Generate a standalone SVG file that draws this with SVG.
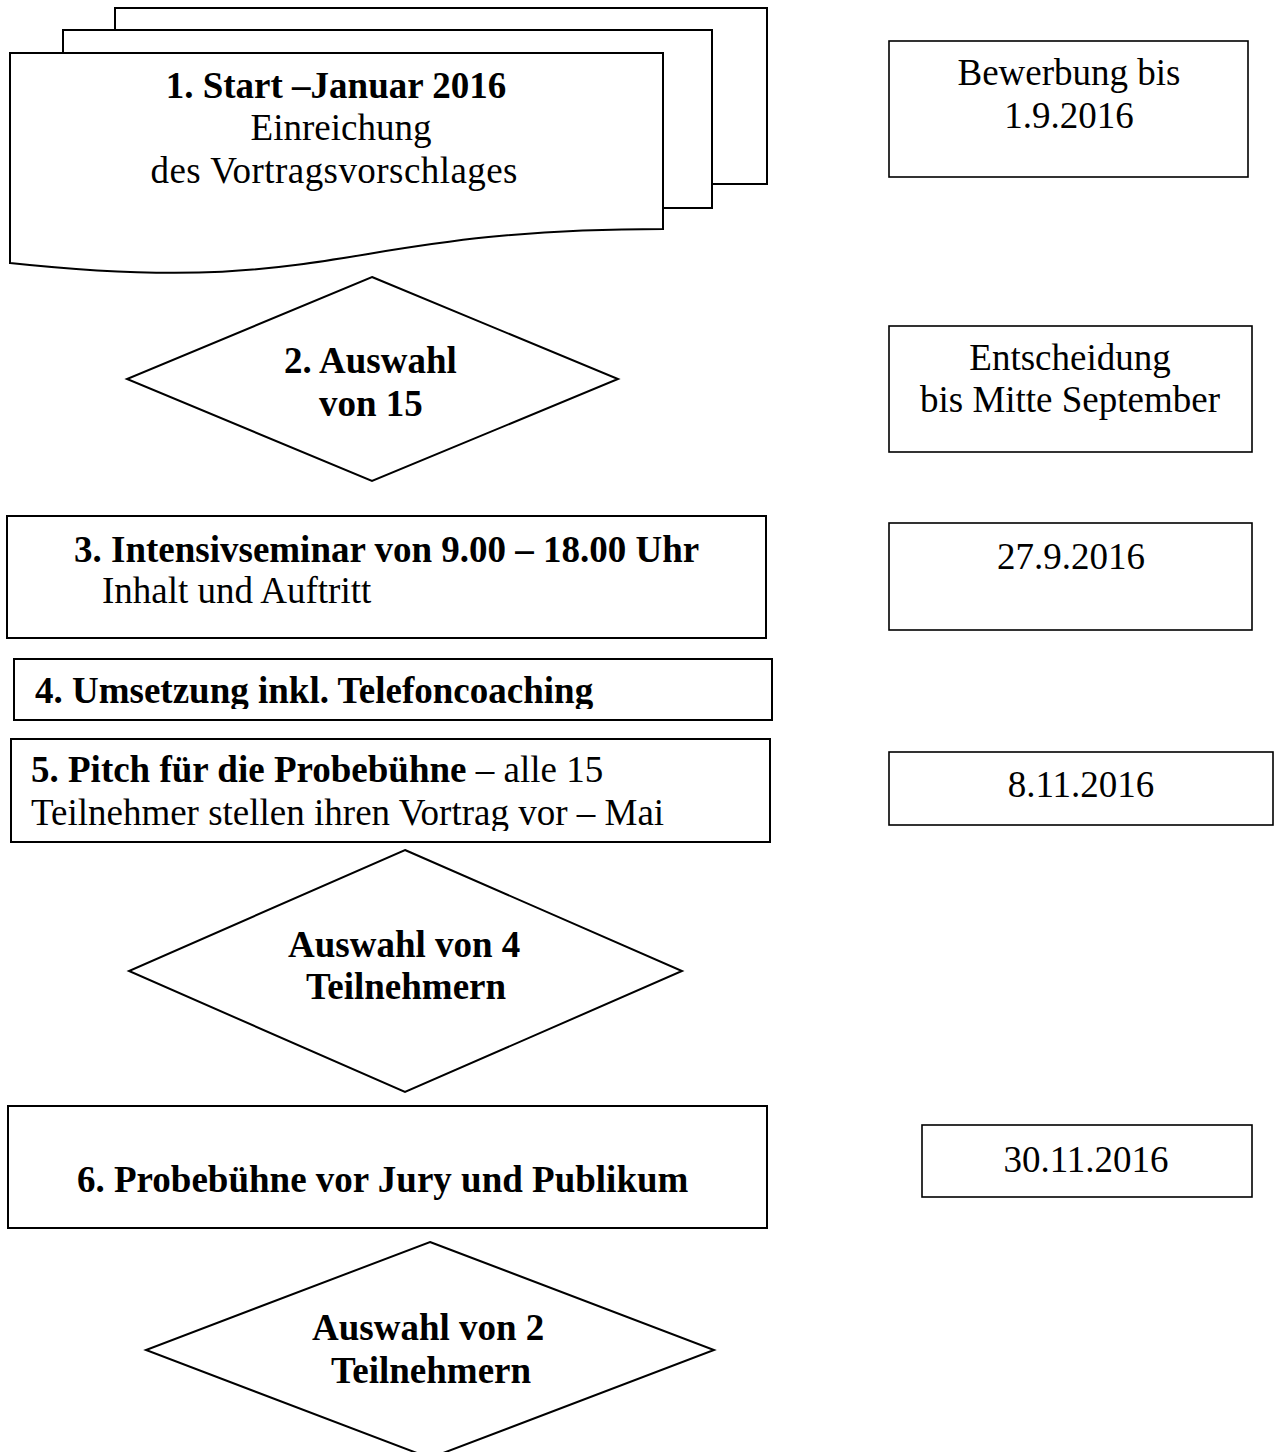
<svg xmlns="http://www.w3.org/2000/svg" width="1275" height="1452" viewBox="0 0 1275 1452">
<style>
.shape{fill:#fff;stroke:#000;stroke-width:2;stroke-linejoin:miter}
.thin{fill:#fff;stroke:#000;stroke-width:1.6}
text{font-family:"Liberation Serif","Times New Roman",serif;font-size:37px;fill:#000}
.b{font-weight:bold}
.c{text-anchor:middle}
</style>
<defs>
<clipPath id="clip4"><rect x="14" y="659" width="758" height="50"/></clipPath>
<clipPath id="clip5"><rect x="11" y="739" width="759" height="92"/></clipPath>
</defs>
<rect width="1275" height="1452" fill="#fff"/>
<g id="connectors"></g>
<g id="node1">
<rect class="shape" x="115" y="8" width="652" height="176"/>
<rect class="shape" x="63" y="30" width="649" height="178"/>
<path class="shape" d="M10,53 H663 V229 C336,229 336,298 10,263 Z"/>
<text class="b c" x="336" y="98">1. Start –Januar 2016</text>
<text class="c" x="341" y="140">Einreichung</text>
<text class="c" x="334" y="183" textLength="367" lengthAdjust="spacing">des Vortragsvorschlages</text>
</g>
<g id="date1">
<rect class="thin" x="889" y="41" width="359" height="136"/>
<text class="c" x="1069" y="85">Bewerbung bis</text>
<text class="c" x="1069" y="128">1.9.2016</text>
</g>
<g id="node2">
<polygon class="shape" points="372,277 618,379 372,481 127,379"/>
<text class="b" x="284" y="373">2. Auswahl</text>
<text class="b" x="319" y="416">von 15</text>
</g>
<g id="date2">
<rect class="thin" x="889" y="326" width="363" height="126"/>
<text class="c" x="1070" y="370">Entscheidung</text>
<text class="c" x="1070" y="412">bis Mitte September</text>
</g>
<g id="node3">
<rect class="shape" x="7" y="516" width="759" height="122"/>
<text class="b" x="74" y="562">3. Intensivseminar von 9.00 – 18.00 Uhr</text>
<text x="102" y="603">Inhalt und Auftritt</text>
</g>
<g id="date3">
<rect class="thin" x="889" y="523" width="363" height="107"/>
<text class="c" x="1071" y="569">27.9.2016</text>
</g>
<g id="node4">
<rect class="shape" x="14" y="659" width="758" height="61"/>
<text class="b" x="35" y="703" clip-path="url(#clip4)">4. Umsetzung inkl. Telefoncoaching</text>
</g>
<g id="node5">
<rect class="shape" x="11" y="739" width="759" height="103"/>
<g clip-path="url(#clip5)">
<text x="31" y="782"><tspan class="b">5. Pitch für die Probebühne</tspan> – alle 15</text>
<text x="31" y="825">Teilnehmer stellen ihren Vortrag vor – Mai</text>
</g>
</g>
<g id="date5">
<rect class="thin" x="889" y="752" width="384" height="73"/>
<text class="c" x="1081" y="797">8.11.2016</text>
</g>
<g id="node5b">
<polygon class="shape" points="405,850 682,971 405,1092 129,971"/>
<text class="b" x="288" y="957">Auswahl von 4</text>
<text class="b" x="306" y="999">Teilnehmern</text>
</g>
<g id="node6">
<rect class="shape" x="8" y="1106" width="759" height="122"/>
<text class="b" x="77" y="1192">6. Probebühne vor Jury und Publikum</text>
</g>
<g id="date6">
<rect class="thin" x="922" y="1125" width="330" height="72"/>
<text class="c" x="1086" y="1172">30.11.2016</text>
</g>
<g id="node7">
<polygon class="shape" points="430,1242 714,1350 430,1458 146,1350"/>
<text class="b" x="312" y="1340">Auswahl von 2</text>
<text class="b" x="331" y="1383">Teilnehmern</text>
</g>
</svg>
